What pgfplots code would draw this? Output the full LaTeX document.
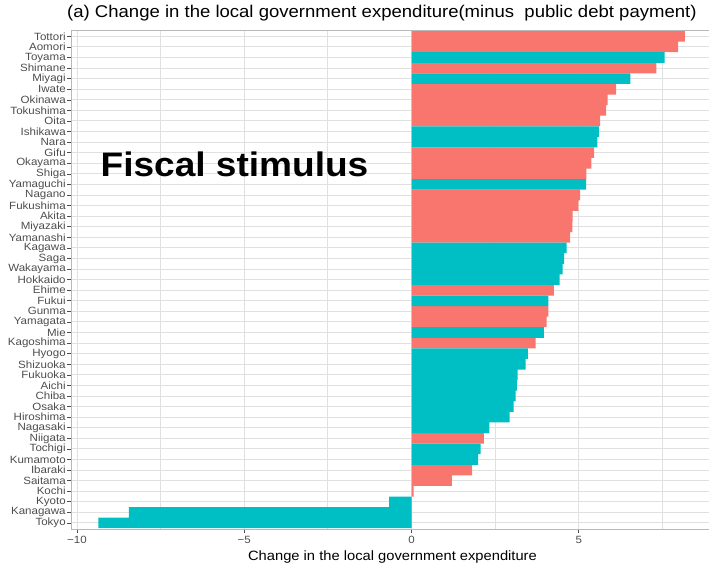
\documentclass[border=0pt]{standalone}
\usepackage{fontspec}
\setmainfont{Liberation Sans}
\usepackage{pgfplots}
\pgfplotsset{compat=1.18}
\definecolor{salmon}{HTML}{F8766D}
\definecolor{teal2}{HTML}{00BFC4}
\definecolor{tickgray}{HTML}{4D4D4D}
\definecolor{gridgray}{HTML}{E0E0E0}
\definecolor{bordergray}{HTML}{B8B8B8}
\begin{document}
\begin{tikzpicture}
\useasboundingbox (0,0) rectangle (709pt,569pt);
\begin{axis}[
  at={(71pt,39.7pt)}, anchor=south west,
  scale only axis, width=643.2pt, height=499.3pt,
  xmin=-10.18, xmax=9.05, ymin=0.4, ymax=47.6,
  xbar, bar width=1, bar shift=0pt,
  xtick={-10,-5,0,5}, xticklabels={−10,−5,0,5},
  minor xtick={-7.5,-2.5,2.5,7.5},
  ytick={1,...,47},
  yticklabels={Tokyo,Kanagawa,Kyoto,Kochi,Saitama,Ibaraki,Kumamoto,Tochigi,Niigata,Nagasaki,Hiroshima,Osaka,Chiba,Aichi,Fukuoka,Shizuoka,Hyogo,Kagoshima,Mie,Yamagata,Gunma,Fukui,Ehime,Hokkaido,Wakayama,Saga,Kagawa,Yamanashi,Miyazaki,Akita,Fukushima,Nagano,Yamaguchi,Shiga,Okayama,Gifu,Nara,Ishikawa,Oita,Tokushima,Okinawa,Iwate,Miyagi,Shimane,Toyama,Aomori,Tottori},
  xmajorgrids, xminorgrids, ymajorgrids,
  major grid style={line width=1pt, gridgray},
  minor grid style={line width=1pt, gridgray},
  axis line style={bordergray, line width=0.8pt},
  tick pos=left, tick align=outside,
  major tick length=4pt, minor tick length=0pt,
  tick style={tickgray, line width=0.6pt},
  yticklabel style={font=\fontsize{10.5}{10.5}\selectfont, text=tickgray, xscale=1.1, inner sep=1pt},
  xticklabel style={font=\fontsize{10.5}{10.5}\selectfont, text=tickgray, xscale=1.1, inner sep=1pt, yshift=-2pt},
]
\addplot[draw=none, fill=salmon] coordinates {
(8.17,47) (7.97,46) (7.32,44) (6.12,42) (5.86,41) (5.82,40) (5.64,39)
(5.46,36) (5.38,35) (5.23,34) (5.04,32) (4.99,31) (4.82,30) (4.81,29)
(4.74,28) (4.26,23) (4.09,21) (4.04,20) (3.71,18) (2.16,9) (1.81,6)
(1.21,5) (0.06,4)};
\addplot[draw=none, fill=teal2] coordinates {
(7.57,45) (6.54,43) (5.60,38) (5.56,37) (5.22,33) (4.64,27) (4.56,26)
(4.52,25) (4.43,24) (4.09,22) (3.96,19) (3.48,17) (3.41,16) (3.17,15)
(3.15,14) (3.11,13) (3.05,12) (2.93,11) (2.33,10) (2.07,8) (1.99,7)
(-0.67,3) (-8.45,2) (-9.36,1)};
\end{axis}
\node[anchor=base west, inner sep=0pt, font=\fontsize{17}{17}\selectfont, xscale=1.09] at (67pt,551pt) {(a) Change in the local government expenditure(minus\ \ public debt payment)};
\node[anchor=base, inner sep=0pt, font=\fontsize{13.5}{13.5}\selectfont, xscale=1.09] at (392.5pt,8pt) {Change in the local government expenditure};
\node[anchor=base, inner sep=0pt, font=\fontsize{34}{34}\selectfont\bfseries, xscale=1.09] at (234.5pt,392.3pt) {Fiscal stimulus};
\end{tikzpicture}
\end{document}
